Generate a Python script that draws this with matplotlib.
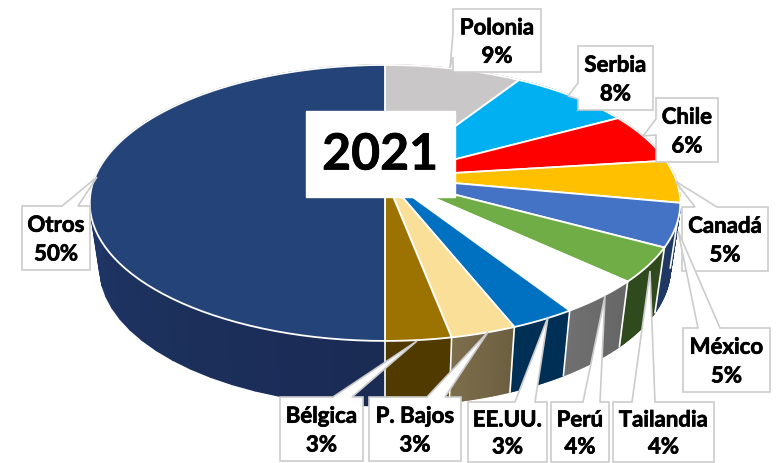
import numpy as np
import matplotlib
matplotlib.use('Agg')
import matplotlib.pyplot as plt
import matplotlib.patheffects as pe
from matplotlib.colors import to_rgb
from matplotlib.patches import Polygon

plt.rcParams['font.family'] = ['Lato', 'DejaVu Sans']

# Data, clockwise from 12 o'clock
paises = ['Polonia', 'Serbia', 'Chile', 'Canadá', 'México', 'Tailandia', 'Perú', 'EE.UU.', 'P. Bajos', 'Bélgica', 'Otros']
valores = [9, 8, 6, 5, 5, 4, 4, 3, 3, 3, 50]
titulo = '2021'

colores = ['#c9c7c8', '#00b0f0', '#ff0000', '#ffc000', '#4472c4', '#70ad47', '#ffffff', '#0070c0', '#fadf99', '#9c7300', '#244379']
# side wall colours, start and end of a gradient
lado_a = ['#7f7e7e', '#006f98', '#a00000', '#a87f00', '#203864', '#2f4a1c', '#666666', '#002f56', '#6c5f40', '#503a00', '#1a2b54']
lado_b = ['#7f7e7e', '#006f98', '#a00000', '#a87f00', '#203864', '#2f4a1c', '#707070', '#002f56', '#7d6e4c', '#503a00', '#25437a']

# Label boxes: (left, top, right, bottom), side the pointer leaves from, pointer base and tip
cajas = [(453, 10, 541, 73), (578, 47, 653, 111), (656, 99, 718, 163), (682, 208, 768, 272),
         (683, 329, 770, 393), (613, 403, 714, 463), (551, 403, 609, 463), (468, 403, 547, 463),
         (369, 398, 461, 462), (280, 398, 363, 462), (22, 207, 90, 271)]
lados = ['left', 'left', 'left', 'top', 'top', 'top', 'top', 'top', 'top', 'top', 'top']
bases = [(34, 58), (84, 100), (120, 136), (695, 717), (698, 720), (632, 655), (583, 600), (515, 535), (427, 445), (333, 352), (62, 78)]
puntas = [(450, 69), (568, 97), (643, 137), (675, 182), (678, 232), (650, 272), (605, 297), (548, 318), (488, 333), (417, 342), (97, 178)]

# Geometry of the tilted pie, in pixels
cx, cy, alto_y = 385, 204, 138
s, k, centro_v = 290, 0.188, 26
prof, encoge = 65, 285 / 295


def rim(theta):
    # circle point -> picture, perspective keeps the far half shorter
    px, py = np.sin(theta), np.cos(theta)
    d = 1 + k * py
    return cx + s * px / d, cy - (alto_y * py + centro_v) / d


def rim_bajo(theta):
    x, y = rim(theta)
    return cx + (x - cx) * encoge, y + prof


def mezcla(c1, c2, t):
    a, b = np.array(to_rgb(c1)), np.array(to_rgb(c2))
    return tuple(a + (b - a) * t)


fig = plt.figure(figsize=(7.76, 4.64), dpi=100)
ax = fig.add_axes([0, 0, 1, 1])
ax.set_xlim(0, 776)
ax.set_ylim(464, 0)
ax.axis('off')

limites = 2 * np.pi * np.cumsum([0] + valores) / sum(valores)

# side walls
for i in range(len(valores)):
    t = np.linspace(limites[i], limites[i + 1], 41)
    for j in range(len(t) - 1):
        x1, y1 = rim(t[j:j + 2])
        x2, y2 = rim_bajo(t[j:j + 2])
        c = mezcla(lado_a[i], lado_b[i], j / (len(t) - 2))
        ax.fill([x1[0], x1[1], x2[1], x2[0]], [y1[0], y1[1], y2[1], y2[0]],
                facecolor=c, edgecolor=c, lw=1.0, zorder=1)
    # white separators on the visible front
    if np.cos(limites[i]) < 0.3:
        xa, ya = rim(limites[i])
        xb, yb = rim_bajo(limites[i])
        ax.plot([xa, xb], [ya, yb], color='white', lw=1.2, zorder=2)

# top
for i in range(len(valores)):
    t = np.linspace(limites[i], limites[i + 1], 80)
    x, y = rim(t)
    xc, yc = cx, cy - centro_v
    ax.add_patch(Polygon(np.column_stack([np.r_[xc, x], np.r_[yc, y]]), closed=True,
                         facecolor=colores[i], edgecolor='white', lw=1.3, zorder=3))

# labels with pointers
trazo = [pe.withStroke(linewidth=0.5, foreground='black')]
for nombre, v, caja, lado, base, punta in zip(paises, valores, cajas, lados, bases, puntas):
    x0, y0, x1, y1 = caja
    if lado == 'top':
        pts = [(x0, y0), (base[0], y0), punta, (base[1], y0), (x1, y0), (x1, y1), (x0, y1)]
    else:
        pts = [(x0, y0), (x1, y0), (x1, y1), (x0, y1), (x0, base[1]), punta, (x0, base[0])]
    ax.add_patch(Polygon(pts, closed=True, facecolor='white', edgecolor='#cccccc', lw=1.2, zorder=5))
    ax.text((x0 + x1) / 2, y0 + (y1 - y0) * 0.30, nombre, ha='center', va='center',
            fontsize=16, fontweight='bold', color='black', zorder=6, path_effects=trazo)
    ax.text((x0 + x1) / 2, y0 + (y1 - y0) * 0.75, f'{v}%', ha='center', va='center',
            fontsize=16, fontweight='bold', color='black', zorder=6, path_effects=trazo)

# year box
ax.fill([306, 455, 455, 306], [112, 112, 198, 198], color='white', zorder=7)
ax.text(380, 156, titulo, ha='center', va='center', fontsize=36, fontweight='bold', color='black',
        zorder=8, path_effects=trazo)

fig.savefig('out.png', dpi=100)
